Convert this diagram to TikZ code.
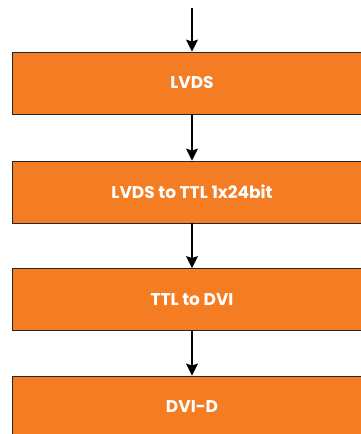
\documentclass[tikz,border=0pt]{standalone}
\usepackage{fontspec}
\setmainfont{Poppins}
\usetikzlibrary{arrows.meta}
\definecolor{boxorange}{HTML}{F47C22}
\begin{document}
\begin{tikzpicture}[x=1pt,y=-1pt,
  block/.style={draw=black!85, line width=0.8pt, fill=boxorange, minimum width=360pt, minimum height=62pt, inner sep=0pt, font=\fontsize{17}{20}\selectfont\bfseries, text=white},
  conn/.style={draw=black, line width=1.4pt, -{Stealth[length=12pt,width=12pt,inset=2pt]}}]
\useasboundingbox (0,0) rectangle (361,434);
\clip (0,0) rectangle (361,434);
\node[block] (b1) at (192,83) {LVDS};
\node[block] (b2) at (192,192) {LVDS to TTL 1x24bit};
\node[block] (b3) at (192,299.5) {TTL to DVI};
\node[block] (b4) at (192,407) {DVI-D};
\coordinate (in) at (192,8);
\draw[conn] (in) -- (b1);
\draw[conn] (b1) -- (b2);
\draw[conn] (b2) -- (b3);
\draw[conn] (b3) -- (b4);
\end{tikzpicture}
\end{document}
